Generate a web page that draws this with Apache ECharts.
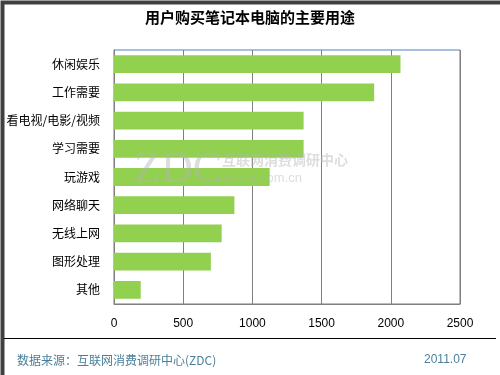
<!DOCTYPE html>
<html>
<head>
<meta charset="utf-8">
<script src="https://cdn.jsdelivr.net/npm/echarts@6/dist/echarts.min.js"></script>
<style>
html,body{margin:0;padding:0;background:#fff;}
#c{width:500px;height:375px;}
</style>
</head>
<body>
<div id="c"></div>
<script>
const categories = ['休闲娱乐','工作需要','看电视/电影/视频','学习需要','玩游戏','网络聊天','无线上网','图形处理','其他'];
const values = [2070, 1880, 1370, 1370, 1125, 870, 778, 700, 193];
const xTicks = [0, 500, 1000, 1500, 2000, 2500];

const chart = echarts.init(document.getElementById('c'), null, {renderer:'canvas'});
const font = '"Noto Sans CJK SC", sans-serif';
chart.setOption({
  animation: false,
  backgroundColor: '#fff',
  title: {
    text: '用户购买笔记本电脑的主要用途',
    left: 'center', top: 5,
    textStyle: {fontFamily: font, fontSize: 15, fontWeight: 'bold', color: '#000'}
  },
  grid: {left: 114, right: 40, top: 50, bottom: 71, show: true, borderColor: '#4f81bd', borderWidth: 1},
  xAxis: {
    type: 'value', min: xTicks[0], max: xTicks[xTicks.length-1], interval: 500,
    axisLine: {show: true, lineStyle: {color: '#808080'}},
    axisTick: {show: false},
    splitLine: {show: true, lineStyle: {color: '#808080'}},
    axisLabel: {color: '#000', fontFamily: 'Arial, "Liberation Sans", sans-serif', fontSize: 12, margin: 14,
      formatter: v => String(v)}
  },
  yAxis: {
    type: 'category', data: categories, inverse: true,
    axisLine: {show: true, onZero: false, lineStyle: {color: '#808080'}},
    axisTick: {show: false},
    axisLabel: {color: '#000', fontFamily: font, fontSize: 12, margin: 14,
      formatter: v => v.replace(/\//g, '\u2009/\u2009').replace(/\u2009/g, '')}
  },
  series: [{
    type: 'bar', data: values, barWidth: '63%',
    itemStyle: {color: '#92d050'}
  }],
  graphic: [
    {type: 'rect', left: 0, top: 0, z: 100, shape: {width: 500, height: 375},
     style: {fill: 'none', stroke: '#404040', lineWidth: 4}},
    {type: 'line', z: 100, shape: {x1: 4, y1: 338.5, x2: 496, y2: 338.5},
     style: {stroke: '#000', lineWidth: 1}},
    {type: 'text', left: 17, top: 354, z: 100,
     style: {text: '数据来源：互联网消费调研中心(ZDC)', fill: '#4a7f9a', font: '12px "Noto Sans CJK SC", sans-serif'}},
    {type: 'text', left: 424, top: 354, z: 100,
     style: {text: '2011.07', fill: '#4a7f9a', font: '12px Arial, "Liberation Sans", sans-serif'}},
    {type: 'text', left: 134, top: 148, z: 50,
     style: {text: 'ZDC', fill: 'rgba(180,180,180,0.45)', font: '44px "Liberation Serif", serif'}},
    {type: 'text', left: 222, top: 153, z: 50,
     style: {text: '互联网消费调研中心', fill: 'rgba(180,180,180,0.45)', font: 'bold 14px "Noto Sans CJK SC", sans-serif'}},
    {type: 'text', left: 216, top: 172, z: 50,
     style: {text: 'zdc.zol.com.cn', fill: 'rgba(180,180,180,0.45)', font: '13px Arial, "Liberation Sans", sans-serif'}}
  ]
});
</script>
</body>
</html>
